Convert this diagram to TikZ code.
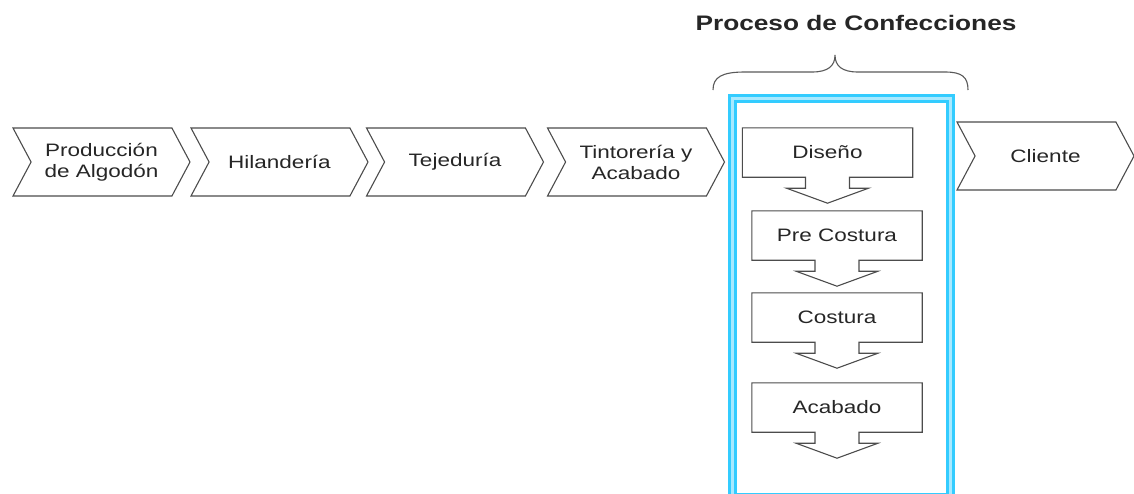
\documentclass[tikz,border=0pt]{standalone}
\usepackage{fontspec}
\newfontfamily\chartfont[FakeStretch=1.25]{Liberation Sans}
\usepackage{tikz}
\usetikzlibrary{shapes.symbols, calc}
\definecolor{framecyan}{HTML}{33CCFF}
\definecolor{framepale}{HTML}{A8E9FF}

\begin{document}
\begin{tikzpicture}[
                    x=1pt, y=-1pt,
                    every node/.style={font={\chartfont\fontsize{18}{21}\selectfont}, text=black!85},
                    stage/.style={shape=signal, signal from=west, signal to=east,
                                  signal pointer angle=124, draw=black!70, line width=1.1pt,
                                  minimum width=177pt, minimum height=68pt, inner sep=0pt, align=center},
                    task/.style={rectangle, minimum width=170pt, minimum height=49pt, inner sep=0pt},
                    taskline/.style={draw=black!70, line width=1.1pt, line join=miter},
                    frame/.style={draw=framecyan, double=framepale, line width=3pt, double distance=3pt},
                    bracket/.style={draw=black!65, line width=1.1pt}
                ]
                  \useasboundingbox (0,0) rectangle (1134,493);
                  % cadena textil
                  \node[stage] (algodon) at (101.5,162) {Producción\\de Algodón};
                  \node[stage] (hilanderia) at (279.5,162) {Hilandería};
                  \node[stage] (tejeduria) at (455,162) {Tejeduría};
                  \node[stage] (tintoreria) at (636,162) {Tintorería y\\Acabado};
                  \node[stage] (cliente) at (1045.5,156) {Cliente};
                  % confecciones
                  \draw[frame] (732.5,98.5) rectangle (950,497);
                  \node[task] (diseno) at (827.5,152.5) {Diseño};
                  \node[task] (precostura) at (837,235.5) {Pre Costura};
                  \node[task] (costura) at (837,317.5) {Costura};
                  \node[task] (acabado) at (837,407.5) {Acabado};
                  \foreach \t in {diseno,precostura,costura,acabado}
                    \draw[taskline] (\t.south west) -- (\t.north west) -- (\t.north east) -- (\t.south east)
                      -- ($(\t.south)+(22,0)$) -- ++(0,11) -- ++(19,0) -- ($(\t.south)+(0,26)$)
                      -- ++(-41,-15) -- ++(19,0) -- ++(0,-11) -- cycle;
                  % llave y titulo
                  \node[font={\chartfont\bfseries\fontsize{21}{25}\selectfont}] (titulo) at (856,23) {Proceso de Confecciones};
                  \coordinate (bl) at (713,90);
                  \coordinate (bt) at (835,55);
                  \coordinate (br) at (968,90);
                  \draw[bracket] (bl) .. controls (713,77) and (722,72) .. (745,72) -- (812,72)
                    .. controls (828,72) and (835,66) .. (bt)
                    .. controls (835,66) and (842,72) .. (858,72) -- (945,72)
                    .. controls (962,72) and (968,77) .. (br);
                \end{tikzpicture}
\end{document}
